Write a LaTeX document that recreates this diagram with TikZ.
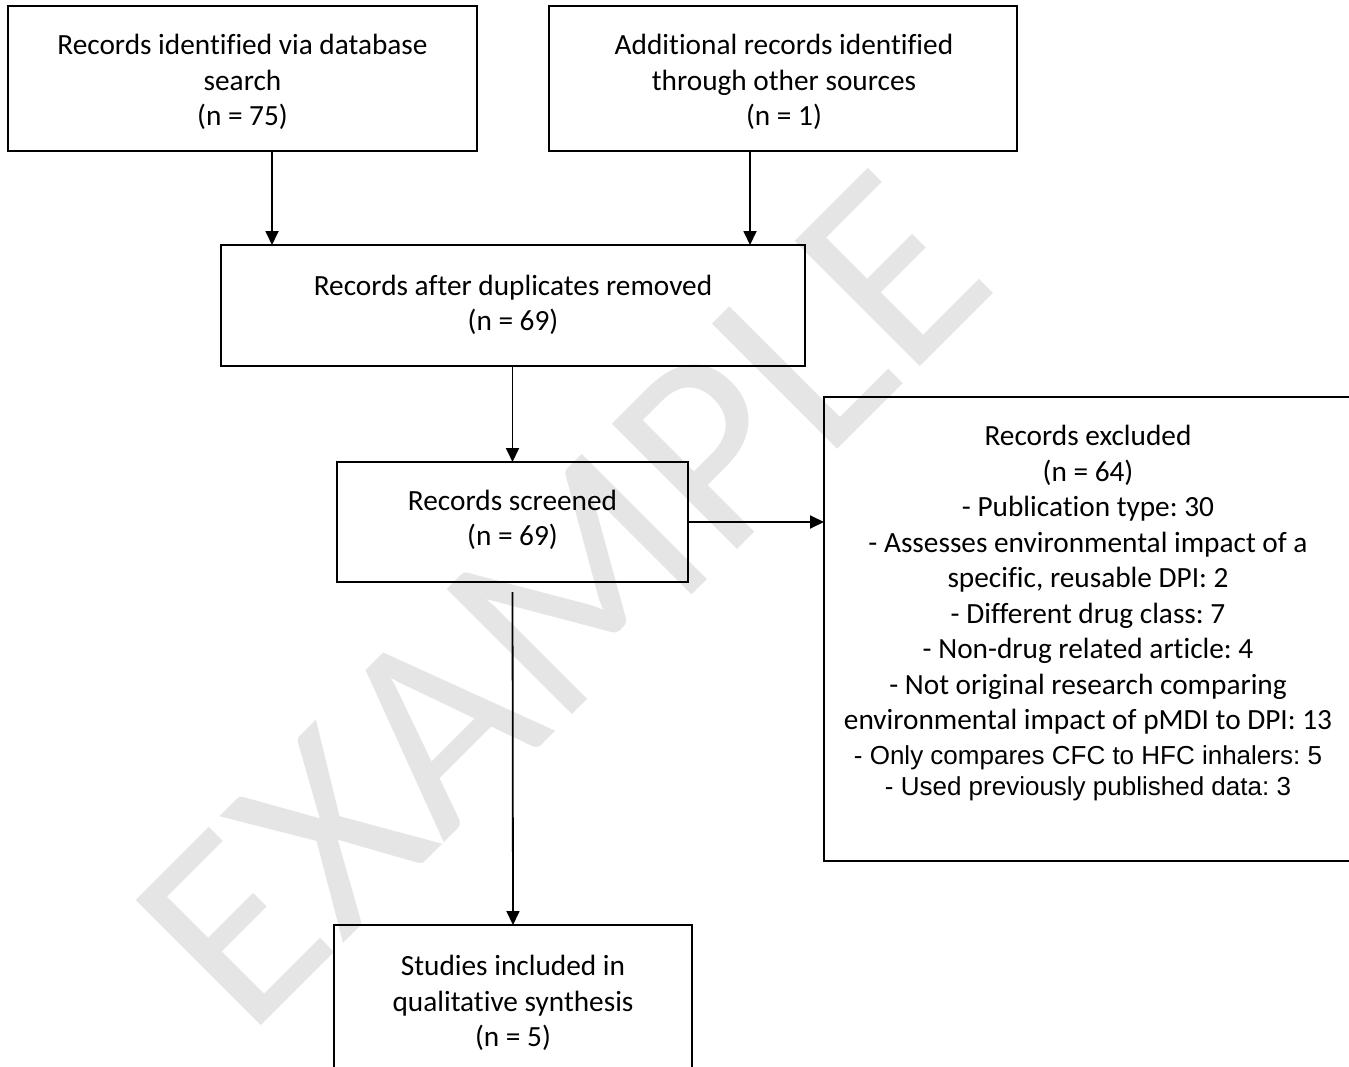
\documentclass[tikz,border=0pt]{standalone}
\usepackage{fontspec}
\setmainfont{Carlito}[Ligatures=NoCommon]
\newfontfamily\arialf{Liberation Sans}
\usetikzlibrary{arrows.meta}
\frenchspacing
\begin{document}
\begin{tikzpicture}[x=1pt,y=1pt,
  box/.style={draw, line width=1.8pt, inner sep=0pt, outer sep=0pt},
  txt/.style={align=center, inner sep=0pt, font=\frenchspacing\fontsize{29.3}{35.5}\selectfont},
  atxt/.style={align=center, inner sep=0pt, font=\frenchspacing\arialf\fontsize{26}{31}\selectfont},
  arr/.style={line width=1.8pt, -{Triangle[length=14pt,width=13pt]}},
  wmark/.style={text=black!10, inner sep=0pt, font=\fontsize{276}{276}\selectfont}]
\useasboundingbox (0,0) rectangle (1349,-1066);
\clip (0,0) rectangle (1349,-1066);
\fill[white] (0,0) rectangle (1349,-1066);
% watermark
\node[wmark, rotate=45] (wm) at (562,-600) {EXAMPLE};
% boxes
\node[box, minimum width=469pt, minimum height=145pt] (b1) at (242.5,-78.5) {};
\node[box, minimum width=468pt, minimum height=145pt] (b2) at (783,-78.5) {};
\node[box, minimum width=584pt, minimum height=121pt] (b3) at (513,-305.5) {};
\node[box, minimum width=351pt, minimum height=120pt] (b4) at (512.5,-522) {};
\node[box, minimum width=528pt, minimum height=464pt] (b5) at (1088,-629) {};
\node[box, minimum width=358pt, minimum height=155pt] (b6) at (513,-1002.5) {};
% texts
\node[txt] (t1) at (242.5,-82) {Records identified via database\\search\\(n = 75)};
\node[txt] (t2) at (784,-82) {Additional records identified\\through other sources\\(n = 1)};
\node[txt] (t3) at (513,-305) {Records after duplicates removed\\(n = 69)};
\node[txt] (t4) at (512.5,-520) {Records screened\\(n = 69)};
\node[txt] (t5) at (1088,-580) {Records excluded\\(n = 64)\\- Publication type: 30\\- Assesses environmental impact of a\\specific, reusable DPI: 2\\- Different drug class: 7\\- Non-drug related article: 4\\- Not original research comparing\\environmental impact of pMDI to DPI: 13};
\node[atxt] (t5b) at (1088,-773) {- Only compares CFC to HFC inhalers: 5\\- Used previously published data: 3};
\node[txt] (t6) at (513,-1003) {Studies included in\\qualitative synthesis\\(n = 5)};
% connectors
\coordinate (c1) at (272,0);
\coordinate (c2) at (750,0);
\draw[arr] (b1.south -| c1) -- (b3.north -| c1);
\draw[arr] (b2.south -| c2) -- (b3.north -| c2);
\draw[arr] (b3.south -| b4.north) -- (b4.north);
\draw[arr] (b4.east) -- (b4.east -| b5.west);
\draw[arr, shorten <=10pt] (b4.south) -- (b6.north);
\end{tikzpicture}
\end{document}
